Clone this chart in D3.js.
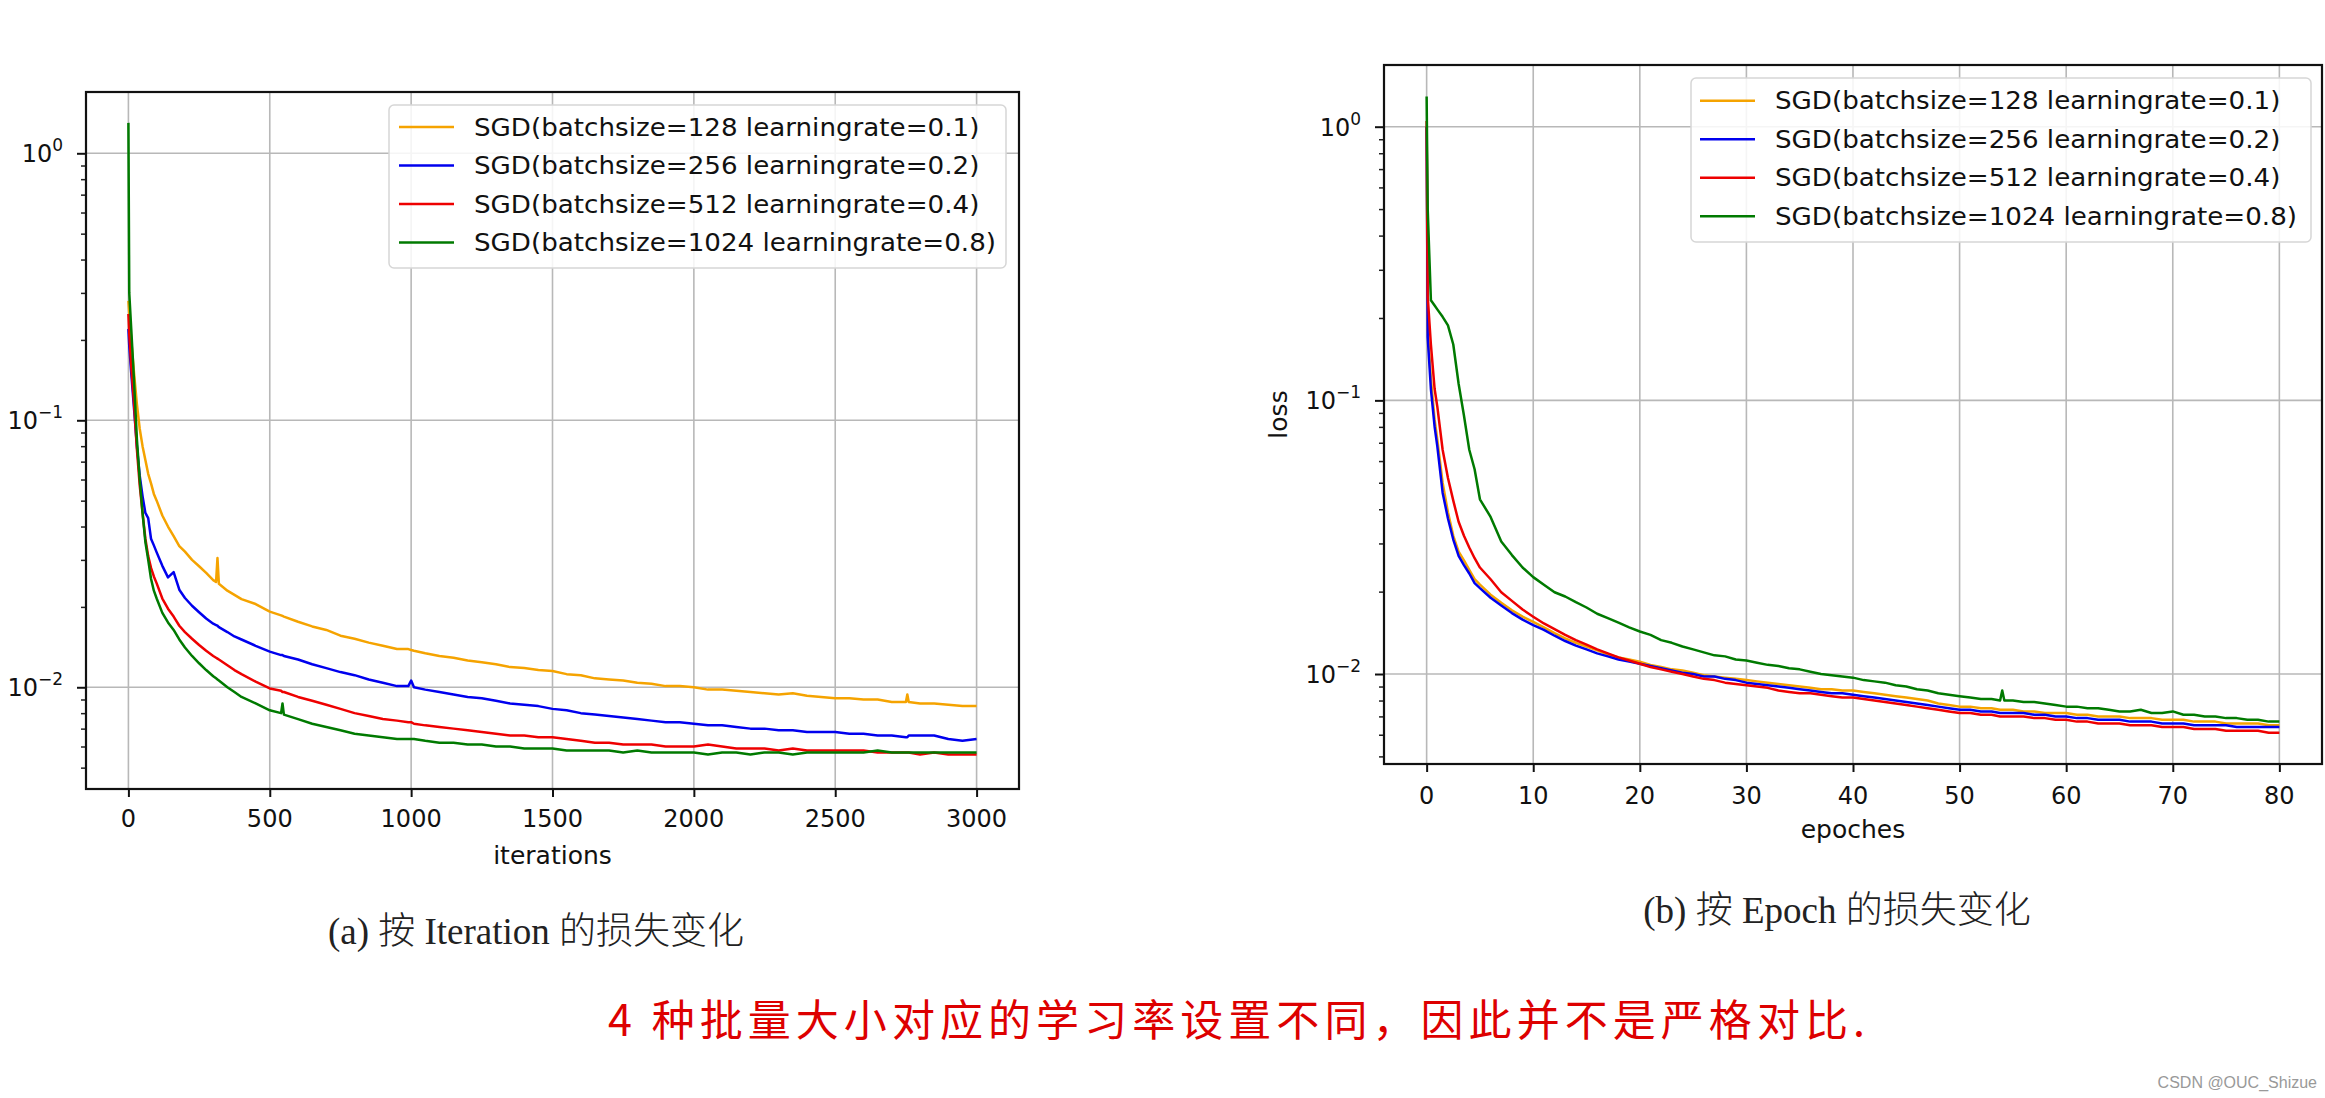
<!DOCTYPE html>
<html><head><meta charset="utf-8">
<script src="https://cdn.jsdelivr.net/npm/d3@7"></script>
<style>body{margin:0;background:#fff;} svg{display:block;}</style>
</head><body>
<svg id="c" width="2325" height="1098"></svg>
<script>
// ---------------- DATA ----------------
const SERIES_LABELS = [
  "SGD(batchsize=128 learningrate=0.1)",
  "SGD(batchsize=256 learningrate=0.2)",
  "SGD(batchsize=512 learningrate=0.4)",
  "SGD(batchsize=1024 learningrate=0.8)"
];
const ITER_TICKS = [0, 500, 1000, 1500, 2000, 2500, 3000];
const EPOCH_TICKS = [0, 10, 20, 30, 40, 50, 60, 70, 80];
const LOSS_DECADES = [0.01, 0.1, 1];
const LOSS_DECADE_LABELS = [["10", "\u22122"], ["10", "\u22121"], ["10", "0"]];

const ITER_X = [
  0,3,10,20,30,40,50,60,70,80,
  90,100,120,140,160,180,200,225,250,275,
  300,310,315,320,350,375,400,450,500,540,
  545,550,600,650,700,750,800,850,900,950,
  990,1000,1010,1050,1100,1150,1200,1250,1300,1350,
  1400,1450,1500,1550,1600,1650,1700,1750,1800,1850,
  1900,1950,2000,2050,2100,2150,2200,2250,2300,2350,
  2400,2450,2500,2550,2600,2650,2700,2750,2755,2760,
  2800,2850,2900,2950,3000
];
const ITER_LOSS_128 = [
  0.28,0.25,0.20,0.15,0.115,0.093,0.080,0.071,0.063,0.058,
  0.053,0.050,0.044,0.040,0.0368,0.0338,0.0322,0.0300,0.0284,0.0268,
  0.0252,0.0248,0.0305,0.0244,0.0230,0.0222,0.0214,0.0205,0.0192,0.0186,
  0.0185,0.0184,0.0176,0.0169,0.0164,0.0156,0.0152,0.0147,0.0143,0.0139,
  0.0139,0.0138,0.0137,0.0134,0.0131,0.0129,0.0126,0.0124,0.0122,0.0119,
  0.0118,0.0116,0.0115,0.0112,0.0111,0.0108,0.0107,0.0106,0.0104,0.0103,
  0.0101,0.0101,0.0100,0.0098,0.0098,0.0097,0.0096,0.0095,0.0094,0.0095,
  0.0093,0.0092,0.0091,0.0091,0.0090,0.0090,0.0088,0.0088,0.0094,0.0088,
  0.0087,0.0087,0.0086,0.0085,0.0085
];
const ITER_LOSS_256 = [
  0.22,0.19,0.15,0.11,0.080,0.062,0.052,0.045,0.043,0.036,
  0.034,0.032,0.0285,0.0258,0.0270,0.0232,0.0216,0.0202,0.0191,0.0181,
  0.0173,0.0171,0.0170,0.0168,0.0161,0.0155,0.0151,0.0143,0.0136,0.0132,
  0.0132,0.0131,0.0127,0.0122,0.0118,0.0114,0.0111,0.0107,0.0104,0.0101,
  0.0101,0.0106,0.0100,0.0098,0.0096,0.0094,0.0092,0.0091,0.0089,0.0087,
  0.0086,0.0085,0.0083,0.0082,0.0080,0.0079,0.0078,0.0077,0.0076,0.0075,
  0.0074,0.0074,0.0073,0.0072,0.0072,0.0071,0.0070,0.0070,0.0069,0.0069,
  0.0068,0.0068,0.0068,0.0067,0.0067,0.0066,0.0066,0.0065,0.0065,0.0066,
  0.0066,0.0066,0.0064,0.0063,0.0064
];
const ITER_LOSS_512 = [
  0.25,0.21,0.16,0.115,0.078,0.057,0.045,0.036,0.031,0.028,
  0.026,0.0245,0.0215,0.0197,0.0184,0.0170,0.0161,0.0152,0.0144,0.0137,
  0.0131,0.0129,0.0128,0.0127,0.0121,0.0116,0.0112,0.0105,0.0099,0.0097,
  0.0096,0.0096,0.0092,0.0089,0.0086,0.0083,0.0080,0.0078,0.0076,0.0075,
  0.0074,0.0074,0.0073,0.0072,0.0071,0.0070,0.0069,0.0068,0.0067,0.0066,
  0.0066,0.0065,0.0065,0.0064,0.0063,0.0062,0.0062,0.0061,0.0061,0.0061,
  0.0060,0.0060,0.0060,0.0061,0.0060,0.0059,0.0059,0.0059,0.0058,0.0059,
  0.0058,0.0058,0.0058,0.0058,0.0058,0.0057,0.0057,0.0057,0.0057,0.0057,
  0.0056,0.0057,0.0056,0.0056,0.0056
];
const ITER_LOSS_1024 = [
  1.30,0.30,0.22,0.14,0.085,0.060,0.045,0.035,0.030,0.0255,
  0.023,0.0215,0.0190,0.0175,0.0164,0.0151,0.0141,0.0131,0.0123,0.0116,
  0.0110,0.0108,0.0107,0.0106,0.0100,0.0096,0.0092,0.0087,0.0082,0.0080,
  0.0087,0.0079,0.0076,0.0073,0.0071,0.0069,0.0067,0.0066,0.0065,0.0064,
  0.0064,0.0064,0.0064,0.0063,0.0062,0.0062,0.0061,0.0061,0.0060,0.0060,
  0.0059,0.0059,0.0059,0.0058,0.0058,0.0058,0.0058,0.0057,0.0058,0.0057,
  0.0057,0.0057,0.0057,0.0056,0.0057,0.0057,0.0056,0.0057,0.0057,0.0056,
  0.0057,0.0057,0.0057,0.0057,0.0057,0.0058,0.0057,0.0057,0.0057,0.0057,
  0.0057,0.0057,0.0057,0.0057,0.0057
];

const EPOCH_X = [
  0,0.1,0.4,0.75,1,1.5,2,2.5,3,3.5,
  4,4.5,5,6,7,8,9,10,11,12,
  13,14,15,16,17,18,19,20,21,22,
  23,24,25,26,27,28,29,30,31,32,
  33,34,35,36,37,38,39,40,41,42,
  43,44,45,46,47,48,49,50,51,52,
  53,53.8,54,54.2,55,56,57,58,59,60,61,62,
  63,64,65,66,67,68,69,70,71,72,
  73,74,75,76,77,78,79,80
];
const EPOCH_LOSS_128 = [
  1.00,0.18,0.12,0.085,0.072,0.050,0.039,0.032,0.028,0.026,
  0.0240,0.0222,0.0212,0.0195,0.0182,0.0171,0.0162,0.0155,0.0148,0.0141,
  0.0135,0.0130,0.0126,0.0122,0.0118,0.0115,0.0113,0.0111,0.0108,0.0106,
  0.0104,0.0103,0.0101,0.0099,0.0098,0.0097,0.0096,0.0095,0.0094,0.0093,
  0.0092,0.0091,0.0090,0.0089,0.0088,0.0088,0.0087,0.0087,0.0086,0.0085,
  0.0084,0.0083,0.0082,0.0081,0.0080,0.0078,0.0077,0.0076,0.0076,0.0075,
  0.0075,0.0074,0.0074,0.0074,0.0074,0.0073,0.0073,0.0072,0.0072,0.0072,0.0071,0.0071,
  0.0070,0.0070,0.0070,0.0069,0.0069,0.0069,0.0068,0.0068,0.0068,0.0067,
  0.0067,0.0067,0.0066,0.0066,0.0066,0.0066,0.0065,0.0065
];
const EPOCH_LOSS_256 = [
  1.00,0.17,0.11,0.080,0.068,0.046,0.037,0.031,0.027,0.025,
  0.0233,0.0215,0.0206,0.0190,0.0178,0.0167,0.0158,0.0151,0.0145,0.0138,
  0.0132,0.0127,0.0123,0.0119,0.0116,0.0113,0.0111,0.0109,0.0107,0.0105,
  0.0103,0.0101,0.0100,0.0098,0.0098,0.0096,0.0095,0.0093,0.0092,0.0091,
  0.0090,0.0089,0.0088,0.0087,0.0086,0.0085,0.0085,0.0084,0.0083,0.0082,
  0.0081,0.0080,0.0079,0.0078,0.0077,0.0076,0.0075,0.0074,0.0074,0.0073,
  0.0073,0.0072,0.0072,0.0072,0.0072,0.0072,0.0071,0.0071,0.0070,0.0070,0.0069,0.0069,
  0.0068,0.0068,0.0068,0.0067,0.0067,0.0067,0.0066,0.0066,0.0066,0.0065,
  0.0065,0.0065,0.0065,0.0064,0.0064,0.0064,0.0064,0.0064
];
const EPOCH_LOSS_512 = [
  1.05,0.24,0.16,0.11,0.095,0.066,0.052,0.043,0.036,0.032,
  0.029,0.0265,0.0245,0.0222,0.0199,0.0185,0.0172,0.0162,0.0153,0.0146,
  0.0139,0.0133,0.0128,0.0123,0.0119,0.0115,0.0112,0.0109,0.0106,0.0104,
  0.0102,0.0100,0.0098,0.0096,0.0095,0.0093,0.0092,0.0091,0.0090,0.0089,
  0.0087,0.0086,0.0085,0.0085,0.0084,0.0083,0.0082,0.0082,0.0081,0.0080,
  0.0079,0.0078,0.0077,0.0076,0.0075,0.0074,0.0073,0.0072,0.0072,0.0071,
  0.0071,0.0070,0.0070,0.0070,0.0070,0.0070,0.0069,0.0069,0.0068,0.0068,0.0067,0.0067,
  0.0066,0.0066,0.0066,0.0065,0.0065,0.0065,0.0064,0.0064,0.0064,0.0063,
  0.0063,0.0063,0.0062,0.0062,0.0062,0.0062,0.0061,0.0061
];
const EPOCH_LOSS_1024 = [
  1.29,0.50,0.232,0.222,0.215,0.202,0.188,0.160,0.115,0.088,
  0.066,0.056,0.0435,0.0375,0.0305,0.0272,0.0245,0.0226,0.0212,0.0199,
  0.0192,0.0183,0.0175,0.0166,0.0160,0.0154,0.0148,0.0143,0.0139,0.0133,
  0.0130,0.0126,0.0123,0.0120,0.0117,0.0116,0.0113,0.0112,0.0110,0.0108,
  0.0107,0.0105,0.0104,0.0102,0.0100,0.0099,0.0098,0.0097,0.0095,0.0094,
  0.0093,0.0091,0.0090,0.0088,0.0087,0.0085,0.0084,0.0083,0.0082,0.0081,
  0.0081,0.0080,0.0087,0.0080,0.0080,0.0079,0.0079,0.0078,0.0077,0.0076,0.0076,0.0075,
  0.0075,0.0074,0.0073,0.0073,0.0074,0.0072,0.0072,0.0073,0.0071,0.0071,
  0.0070,0.0070,0.0069,0.0069,0.0068,0.0068,0.0067,0.0067
];

// ---------------- STYLE ----------------
const COLORS = ["#f5a300", "#0000ee", "#ee0000", "#007a00"];
const TICK_FONT = "'DejaVu Sans', sans-serif";

const svg = d3.select("#c");

function drawPanel(o) {
  const g = svg.append("g");
  const x = d3.scaleLinear().domain(o.xDomain).range([o.left, o.right]);
  const y = d3.scaleLog().domain(o.yDomain).range([o.bottom, o.top]);

  const clipId = "clip" + o.id;
  svg.append("defs").append("clipPath").attr("id", clipId)
    .append("rect").attr("x", o.left).attr("y", o.top)
    .attr("width", o.right - o.left).attr("height", o.bottom - o.top);

  // grid
  g.append("g").selectAll("line").data(o.xTicks).join("line")
    .attr("x1", d => x(d)).attr("x2", d => x(d))
    .attr("y1", o.top).attr("y2", o.bottom)
    .attr("stroke", "#b8b8b8").attr("stroke-width", 1.6);
  g.append("g").selectAll("line").data(LOSS_DECADES).join("line")
    .attr("x1", o.left).attr("x2", o.right)
    .attr("y1", d => y(d)).attr("y2", d => y(d))
    .attr("stroke", "#b8b8b8").attr("stroke-width", 1.6);

  // series
  const lines = g.append("g").attr("clip-path", `url(#${clipId})`);
  o.series.forEach((vals, si) => {
    const n = Math.min(vals.length, o.xs.length);
    const pts = d3.range(n).map(i => [o.xs[i], vals[i]]);
    lines.append("path").datum(pts)
      .attr("fill", "none").attr("stroke", COLORS[si])
      .attr("stroke-width", 2.5).attr("stroke-linejoin", "round")
      .attr("d", d3.line().x(d => x(d[0])).y(d => y(d[1])));
  });

  // x axis
  const xAxis = d3.axisBottom(x).tickValues(o.xTicks).tickSize(8).tickFormat("");
  const gx = g.append("g").attr("transform", `translate(0,${o.bottom})`).call(xAxis);
  gx.select(".domain").remove();
  gx.selectAll(".tick line").attr("stroke", "#111").attr("stroke-width", 2);
  g.append("g").selectAll("text").data(o.xTicks).join("text")
    .attr("x", d => x(d)).attr("y", o.bottom + o.xLabelDy)
    .attr("text-anchor", "middle")
    .style("font-family", TICK_FONT).style("font-size", "24px").attr("fill", "#111")
    .text(d => d);

  // y axis major + minor ticks
  const yAxis = d3.axisLeft(y).tickValues(LOSS_DECADES).tickSize(9).tickFormat("");
  const gy = g.append("g").attr("transform", `translate(${o.left},0)`).call(yAxis);
  gy.select(".domain").remove();
  gy.selectAll(".tick line").attr("stroke", "#111").attr("stroke-width", 2);
  const [ylo, yhi] = y.domain();
  const minor = y.ticks().filter(v => LOSS_DECADES.indexOf(v) < 0 && v >= ylo && v <= yhi);
  const yMinor = d3.axisLeft(y).tickValues(minor).tickSize(5).tickFormat("");
  const gym = g.append("g").attr("transform", `translate(${o.left},0)`).call(yMinor);
  gym.select(".domain").remove();
  gym.selectAll(".tick line").attr("stroke", "#222").attr("stroke-width", 1.5);

  const yl = g.append("g").selectAll("text").data(LOSS_DECADES).join("text")
    .attr("x", o.left - 23).attr("y", d => y(d) + 9)
    .attr("text-anchor", "end")
    .style("font-family", TICK_FONT).style("font-size", "24px").attr("fill", "#111");
  yl.each(function(d, i) {
    const t = d3.select(this);
    t.append("tspan").text(LOSS_DECADE_LABELS[i][0]);
    t.append("tspan").attr("dy", -11).style("font-size", "17px").text(LOSS_DECADE_LABELS[i][1]);
  });

  // frame
  g.append("rect").attr("x", o.left).attr("y", o.top)
    .attr("width", o.right - o.left).attr("height", o.bottom - o.top)
    .attr("fill", "none").attr("stroke", "#111").attr("stroke-width", 2.2);

  // axis labels
  g.append("text").attr("x", (o.left + o.right) / 2).attr("y", o.bottom + o.xTitleDy)
    .attr("text-anchor", "middle")
    .style("font-family", TICK_FONT).style("font-size", "25px").attr("fill", "#111")
    .text(o.xTitle);
  if (o.yTitle) {
    g.append("text")
      .attr("transform", `translate(${o.yTitleX},${(o.top + o.bottom) / 2}) rotate(-90)`)
      .attr("text-anchor", "middle")
      .style("font-family", TICK_FONT).style("font-size", "25px").attr("fill", "#111")
      .text(o.yTitle);
  }

  // legend
  const L = o.legend;
  const lg = g.append("g");
  lg.append("rect").attr("x", L.x).attr("y", L.y).attr("width", L.w).attr("height", L.h)
    .attr("rx", 5).attr("fill", "#fff").attr("fill-opacity", 0.85)
    .attr("stroke", "#d6d6d6").attr("stroke-width", 1.5);
  const rows = lg.selectAll("g.row").data(SERIES_LABELS).join("g").attr("class", "row")
    .attr("transform", (d, i) => `translate(0,${L.row0 + i * L.rowGap})`);
  rows.append("line").attr("x1", L.hx0).attr("x2", L.hx1).attr("y1", 0).attr("y2", 0)
    .attr("stroke", (d, i) => COLORS[i]).attr("stroke-width", 2.4);
  rows.append("text").attr("x", 0).attr("y", 0)
    .attr("transform", `translate(${L.tx},8.5) scale(1.09,1)`)
    .style("font-family", TICK_FONT).style("font-size", "24px").attr("fill", "#111")
    .text(d => d);
}

drawPanel({
  id: "a", left: 86, right: 1019, top: 92, bottom: 789,
  xDomain: [-150, 3150], yDomain: [0.004159, 1.6966],
  xTicks: ITER_TICKS, xs: ITER_X,
  series: [ITER_LOSS_128, ITER_LOSS_256, ITER_LOSS_512, ITER_LOSS_1024],
  xLabelDy: 38, xTitle: "iterations", xTitleDy: 75,
  legend: { x: 389, y: 105, w: 617, h: 163, row0: 127, rowGap: 38.5, hx0: 399, hx1: 454, tx: 474 }
});
drawPanel({
  id: "b", left: 1384, right: 2322, top: 65, bottom: 764,
  xDomain: [-4, 84], yDomain: [0.004690, 1.6806],
  xTicks: EPOCH_TICKS, xs: EPOCH_X,
  series: [EPOCH_LOSS_128, EPOCH_LOSS_256, EPOCH_LOSS_512, EPOCH_LOSS_1024],
  xLabelDy: 40, xTitle: "epoches", xTitleDy: 74,
  yTitle: "loss", yTitleX: 1287,
  legend: { x: 1691, y: 78, w: 620, h: 164, row0: 100.7, rowGap: 38.5, hx0: 1700, hx1: 1755, tx: 1775 }
});

// captions
const CAP_FONT = "'Liberation Serif', 'Noto Sans CJK SC', serif";
function caption(cx, y, parts) {
  const t = svg.append("text").attr("x", cx).attr("y", y).attr("text-anchor", "middle")
    .style("font-family", CAP_FONT).style("font-size", "37px").attr("fill", "#222");
  parts.forEach(p => {
    const ts = t.append("tspan").text(p.t);
    if (p.cjk) ts.style("font-family", "'Noto Sans CJK SC'").style("font-weight", 300);
  });
}
caption(536, 944, [{t: "(a) "}, {t: "按", cjk: 1}, {t: " Iteration "}, {t: "的损失变化", cjk: 1}]);
caption(1837, 923, [{t: "(b) "}, {t: "按", cjk: 1}, {t: " Epoch "}, {t: "的损失变化", cjk: 1}]);

svg.append("text").attr("x", 608).attr("y", 1036)
  .attr("textLength", 1257).attr("lengthAdjust", "spacing")
  .style("font-family", "'Noto Sans CJK SC'").style("font-size", "43px")
  .attr("fill", "#dd0000")
  .text("4 种批量大小对应的学习率设置不同，因此并不是严格对比.");

svg.append("text").attr("x", 2317).attr("y", 1088).attr("text-anchor", "end")
  .style("font-family", "'Liberation Sans', sans-serif").style("font-size", "16px")
  .attr("fill", "#999").text("CSDN @OUC_Shizue");
</script>
</body></html>
